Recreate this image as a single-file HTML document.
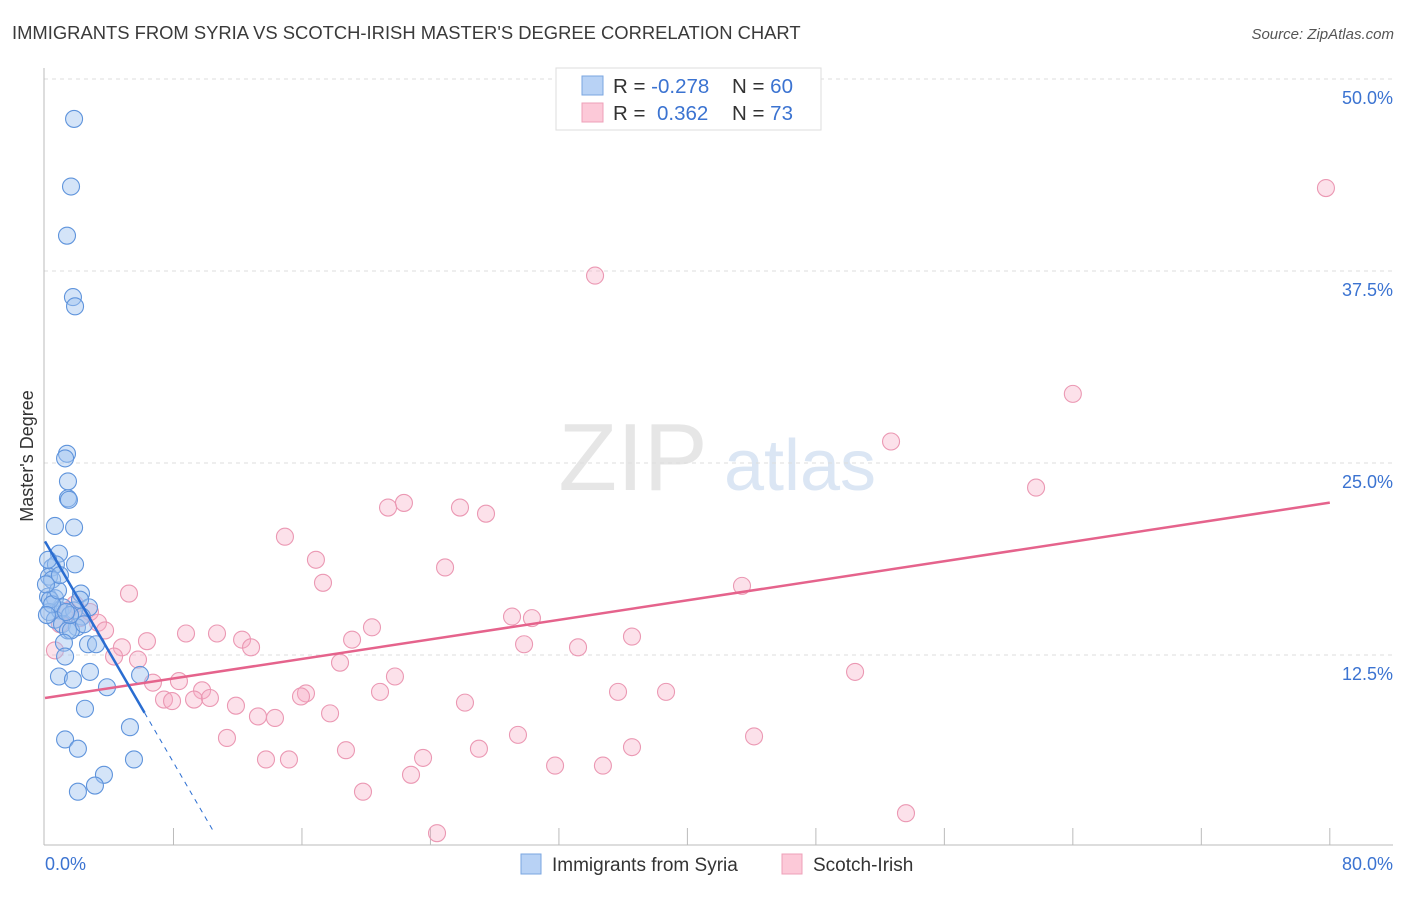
<!DOCTYPE html>
<html><head><meta charset="utf-8"><style>
body{margin:0;background:#fff;font-family:"Liberation Sans",sans-serif;}
svg text{font-family:"Liberation Sans",sans-serif;}
</style></head><body>
<svg id="c" width="1406" height="892">
<text x="12" y="39" font-size="18.4" fill="#3a3a3a">IMMIGRANTS FROM SYRIA VS SCOTCH-IRISH MASTER'S DEGREE CORRELATION CHART</text>
<text x="1394" y="39" font-size="15" fill="#555" font-style="italic" text-anchor="end">Source: ZipAtlas.com</text>
<text transform="translate(33,456) rotate(-90)" font-size="18" fill="#333" text-anchor="middle">Master's Degree</text>
<text x="633" y="490" font-size="96" fill="#e6e6e6" text-anchor="middle" font-family="Liberation Serif">ZIP</text>
<text x="800" y="490" font-size="72" fill="#dbe6f4" text-anchor="middle">atlas</text>
<g id="grid"></g><g id="pts"></g><g id="lines"></g>
<g>
<rect x="556" y="68" width="265" height="62" fill="#fff" stroke="#ddd"/>
<rect x="582" y="76" width="21" height="19" fill="#b8d2f5" stroke="#7aa6e0"/>
<rect x="582" y="103" width="21" height="19" fill="#fcc9d8" stroke="#eea0b8"/>
<text x="613" y="93" font-size="20.5" fill="#333">R = <tspan fill="#3b73d1">-0.278</tspan><tspan x="732">N = </tspan><tspan fill="#3b73d1">60</tspan></text>
<text x="613" y="120" font-size="20.5" fill="#333">R = <tspan x="657" fill="#3b73d1">0.362</tspan><tspan x="732">N = </tspan><tspan fill="#3b73d1">73</tspan></text>
</g>
<g>
<rect x="521" y="854" width="20" height="20" fill="#b8d2f5" stroke="#7aa6e0"/>
<text x="552" y="871" font-size="19" fill="#333">Immigrants from Syria</text>
<rect x="782" y="854" width="20" height="20" fill="#fcc9d8" stroke="#eea0b8"/>
<text x="813" y="871" font-size="19" fill="#333">Scotch-Irish</text>
</g>
</svg>
<script>
const xTicks=[0,80];
const yTicks=[12.5,25,37.5,50];
const blueX=[1.81,1.62,1.37,1.74,1.87,1.37,1.25,1.43,1.43,1.49,0.62,1.81,0.87,1.87,0.44,0.68,0.25,0.44,2.24,0.19,0.62,2.74,0.25,0.93,1.12,1.81,2.30,0.62,1.06,1.99,1.43,1.62,2.43,2.68,3.18,1.18,1.25,2.80,0.87,1.74,5.92,3.86,2.49,5.29,1.25,2.05,5.54,3.67,3.11,2.05,0.31,0.44,0.81,0.12,0.93,0.06,1.56,1.31,0.19,2.18];
const blueY=[47.4,43.0,39.8,35.8,35.2,25.6,25.3,23.8,22.7,22.6,20.9,20.8,19.1,18.4,18.2,18.4,17.6,17.4,16.5,16.3,16.2,15.6,15.3,15.4,15.6,15.4,15.0,14.8,14.5,14.3,14.1,14.1,14.5,13.2,13.2,13.3,12.4,11.4,11.1,10.9,11.2,10.4,9.0,7.8,7.0,6.4,5.7,4.7,4.0,3.6,16.1,15.8,16.7,15.1,17.7,17.1,15.1,15.3,18.7,16.1];
const pinkX=[79.76,34.25,64.0,52.68,61.71,22.35,21.36,25.84,27.46,14.94,16.87,24.91,17.31,43.40,5.23,29.08,30.32,20.36,36.55,8.78,10.71,12.27,6.35,19.12,12.83,29.83,33.19,4.79,4.30,5.79,18.37,50.44,21.79,6.72,8.34,35.68,38.67,20.86,9.78,16.25,15.94,7.41,7.91,9.28,10.27,11.89,26.15,13.26,14.32,17.75,11.33,29.45,44.15,27.02,36.55,18.74,13.76,15.19,23.54,31.76,34.74,22.79,19.80,53.61,24.41,3.30,2.80,1.87,0.93,0.62,3.74,2.18,1.43];
const pinkY=[42.9,37.2,29.5,26.4,23.4,22.4,22.1,22.1,21.7,20.2,18.7,18.2,17.2,17.0,16.5,15.0,14.9,14.3,13.7,13.9,13.9,13.5,13.4,13.5,13.0,13.2,13.0,13.0,12.4,12.2,12.0,11.4,11.1,10.7,10.8,10.1,10.1,10.1,10.2,10.0,9.8,9.6,9.5,9.6,9.7,9.2,9.4,8.5,8.4,8.7,7.1,7.3,7.2,6.4,6.5,6.3,5.7,5.7,5.8,5.3,5.3,4.7,3.6,2.2,0.9,14.6,15.3,15.8,14.5,12.8,14.1,14.9,15.4];
const blueTrend=[19.9,-1.8];
const pinkTrend=[9.7,0.159];
const NS='http://www.w3.org/2000/svg';
const sx=v=>45+v*16.06, sy=v=>847-v*15.36;
function mk(t,a,p){const e=document.createElementNS(NS,t);for(const k in a)e.setAttribute(k,a[k]);p.appendChild(e);return e;}
const g=document.getElementById('grid');
yTicks.forEach(v=>{const l=mk('line',{x1:44,x2:1393,y1:sy(v),y2:sy(v),stroke:'#ddd','stroke-dasharray':'4 4'},g);


const t=mk('text',{x:1393,y:sy(v)+25,'font-size':18,fill:'#3b73d1','text-anchor':'end'},g);t.textContent=v.toFixed(1)+'%';

});
mk('line',{x1:44,x2:44,y1:68,y2:845,stroke:'#bbb'},g);
mk('line',{x1:44,x2:1393,y1:845,y2:845,stroke:'#bbb'},g);
for(let i=1;i<=10;i++){const x=sx(i*8);mk('line',{x1:x,x2:x,y1:828,y2:845,stroke:'#bbb'},g);}
xTicks.forEach((v,i)=>{const t=mk('text',{x:i?1393:45,y:870,'font-size':18,fill:'#3b73d1','text-anchor':i?'end':'start'},g);t.textContent=v.toFixed(1)+'%';

});
const P=document.getElementById('pts');
pinkX.forEach((x,i)=>{const c=mk('circle',{cx:sx(x),cy:sy(pinkY[i]),r:8.5,fill:'rgba(246,170,196,0.35)',stroke:'#eb98b3','stroke-width':1.1},P);

});
blueX.forEach((x,i)=>{const c=mk('circle',{cx:sx(x),cy:sy(blueY[i]),r:8.5,fill:'rgba(160,196,240,0.45)',stroke:'#5f94dc','stroke-width':1.1},P);

});
const L=document.getElementById('lines');
const f=(t,x)=>t[0]+t[1]*x;
const pl=mk('line',{x1:sx(0),y1:sy(f(pinkTrend,0)),x2:sx(80),y2:sy(f(pinkTrend,80)),stroke:'#e5638c','stroke-width':2.5},L);


const bl=mk('line',{x1:sx(0),y1:sy(f(blueTrend,0)),x2:sx(6.2),y2:sy(f(blueTrend,6.2)),stroke:'#2a6dd1','stroke-width':2.5},L);


const bd=mk('line',{x1:sx(6.2),y1:sy(f(blueTrend,6.2)),x2:sx(10.5),y2:sy(f(blueTrend,10.5)),stroke:'#2a6dd1','stroke-width':1,'stroke-dasharray':'5 5'},L);


</script>
</body></html>
